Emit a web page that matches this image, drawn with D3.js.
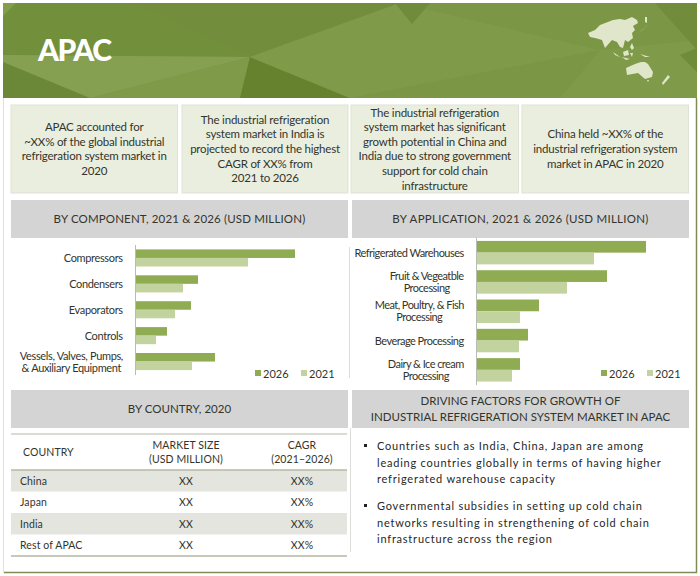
<!DOCTYPE html>
<html>
<head>
<meta charset="utf-8">
<script src="https://d3js.org/d3.v7.min.js"></script>
<style>
  html, body { margin: 0; padding: 0; background: #fff; }
  svg { display: block; }
  text { font-family: Lato, "Open Sans", sans-serif; fill: #33352c; }
  .box-text { font-size: 11.5px; letter-spacing: -0.2px; }
  .panel-title { font-size: 11.5px; }
  .chart-label { font-size: 11px; }
  .table-text { font-size: 10.5px; letter-spacing: 0.1px; }
  .bullet-text { font-size: 11px; letter-spacing: 0.78px; fill: #26271f; }
</style>
</head>
<body>
<div id="chart"></div>
<script>
const years = ['2026', '2021'];

const componentNames = [
  'Compressors', 'Condensers', 'Evaporators', 'Controls',
  'Vessels, Valves, Pumps,|& Auxiliary Equipment'
];
const component2026 = [160, 63, 56, 32, 80];
const component2021 = [113, 48, 40, 21, 57];

const applicationNames = [
  'Refrigerated Warehouses', 'Fruit & Vegeatble|Processing',
  'Meat, Poultry, & Fish|Processing', 'Beverage Processing',
  'Dairy & Ice cream|Processing'
];
const application2026 = [170, 131, 63, 52, 44];
const application2021 = [118, 91, 44, 43, 36];

const countries = ['China', 'Japan', 'India', 'Rest of APAC'];
const marketSizes = ['XX', 'XX', 'XX', 'XX'];
const cagrs = ['XX%', 'XX%', 'XX%', 'XX%'];

const boxTexts = [
  ['APAC accounted for', '~XX% of the global industrial', 'refrigeration system market in', '2020'],
  ['The industrial refrigeration', 'system market in India is', 'projected to record the highest', 'CAGR of XX% from', '2021 to 2026'],
  ['The industrial refrigeration', 'system market has significant', 'growth potential in China and', 'India due to strong government', 'support for cold chain', 'infrastructure'],
  ['China held ~XX% of the', 'industrial refrigeration system', 'market in APAC in 2020']
];

const driverLines = [
  ['Countries such as India, China, Japan are among', 'leading countries globally in terms of having higher', 'refrigerated warehouse capacity'],
  ['Governmental subsidies in setting up cold chain', 'networks resulting in strengthening of cold chain', 'infrastructure across the region']
];

const colors = { '2026': '#8fac52', '2021': '#c3d39f' };

// decoration only: facets of the header background and the map silhouette
const headerFacets = [
  ['#72903c', [[3, 3], [130, 3], [250, 57], [3, 55]]],
  ['#829d4b', [[3, 3], [16, 3], [3, 16]]],
  ['#85a050', [[3, 55], [250, 57], [90, 98], [3, 70]]],
  ['#6b8838', [[3, 62], [90, 98], [3, 98]]],
  ['#7f9a48', [[90, 98], [250, 57], [240, 98]]],
  ['#66822f', [[250, 57], [350, 98], [240, 98]]],
  ['#728e3c', [[130, 3], [400, 3], [250, 57]]],
  ['#7f9a48', [[250, 57], [400, 3], [600, 50], [350, 98]]],
  ['#6f8c3a', [[395, 3], [430, 3], [412, 24]]],
  ['#7f9a48', [[600, 50], [697, 40], [697, 98], [560, 98]]],
  ['#718d3b', [[655, 3], [697, 3], [697, 50]]],
  ['#6f8c3a', [[697, 48], [680, 55], [697, 72]]]
];

const mapShapes = [
  [[588, 33], [595, 30], [600, 25], [613, 20], [620, 19], [625, 20], [632, 17], [637, 20], [638, 23], [633, 26], [635, 30], [632, 33], [633, 38], [628, 42], [625, 40], [623, 48], [620, 47], [617, 42], [612, 40], [605, 48], [602, 40], [595, 38], [590, 37]],
  [[638, 33], [645, 28], [648, 24], [644, 29]],
  [[645, 17], [647, 17], [647, 23], [645, 22]],
  [[632, 43], [634, 48], [632, 50], [630, 47]],
  [[613, 52], [620, 57], [622, 58], [615, 55]],
  [[622, 57], [630, 59], [626, 60]],
  [[623, 52], [628, 50], [629, 55], [624, 56]],
  [[630, 53], [633, 53], [632, 57]],
  [[640, 54], [650, 57], [645, 57]],
  [[626, 68], [635, 64], [641, 62], [645, 62], [648, 64], [653, 72], [652, 77], [645, 79], [638, 73], [627, 75]],
  [[668, 75], [670, 77], [663, 85], [662, 83]],
  [[647, 80], [649, 80], [648, 82]]
];

const width = 700;
const height = 576;

const svg = d3.select('#chart').append('svg')
  .attr('width', width)
  .attr('height', height);

function drawHeader() {
  svg.append('rect')
    .attr('x', 3).attr('y', 3)
    .attr('width', 694).attr('height', 95)
    .attr('fill', '#7b9644');

  const line = d3.line().curve(d3.curveLinearClosed);

  svg.append('g').selectAll('path')
    .data(headerFacets)
    .join('path')
    .attr('d', d => line(d[1]))
    .attr('fill', d => d[0]);

  svg.append('g').selectAll('path')
    .data(mapShapes)
    .join('path')
    .attr('d', d => line(d))
    .attr('fill', '#dfe6c9');

  svg.append('text')
    .text('APAC')
    .attr('x', 38).attr('y', 61)
    .attr('font-size', 30)
    .attr('font-weight', 900)
    .style('letter-spacing', '-1.5px')
    .style('fill', '#fff');

  // page frame
  svg.append('path')
    .attr('d', 'M3.5,98V572.5H696.5V98')
    .attr('fill', 'none')
    .attr('stroke', '#dfe0d6');
  svg.append('path')
    .attr('d', 'M4,572.5H696.5V98')
    .attr('fill', 'none')
    .attr('stroke', '#7f8c55')
    .attr('stroke-width', 1.5);

  // thin dividers between the left and right columns
  svg.append('path')
    .attr('d', 'M349.5,247V378M350.5,428V552')
    .attr('fill', 'none')
    .attr('stroke', '#dcdcd8');
}

function drawBoxes() {
  const boxX = [11, 182, 351, 522];
  const boxW = [166.5, 166, 167.5, 166.5];

  const box = svg.append('g').selectAll('g')
    .data(boxTexts)
    .join('g')
    .attr('transform', (d, i) => `translate(${boxX[i]}, 105)`);

  box.append('rect')
    .attr('width', (d, i) => boxW[i])
    .attr('height', 88)
    .attr('fill', '#eaeedf')
    .attr('stroke', '#dfe3d4');

  box.each(function(lines, i) {
    const lineH = 14.6;
    const top = 44 - (lines.length - 1) * lineH / 2;
    d3.select(this).selectAll('text')
      .data(lines)
      .join('text')
      .attr('class', 'box-text')
      .text(d => d)
      .attr('x', boxW[i] / 2)
      .attr('y', (d, j) => top + j * lineH + 4)
      .attr('text-anchor', 'middle');
  });
}

function drawPanelTitle(x, y, w, h, lines, spacing) {
  svg.append('rect')
    .attr('x', x).attr('y', y)
    .attr('width', w).attr('height', h)
    .attr('fill', '#d4d4d4');

  const lineH = 16;
  lines.forEach((t, i) => {
    svg.append('text')
      .attr('class', 'panel-title')
      .text(t)
      .attr('x', x + w / 2)
      .attr('y', y + h / 2 + (i - (lines.length - 1) / 2) * lineH + 4)
      .attr('text-anchor', 'middle')
      .style('letter-spacing', spacing + 'px');
  });
}

function drawBarChart(cfg) {
  const xScale = d3.scaleLinear()
    .domain([0, cfg.maxValue])
    .range([cfg.left, cfg.left + cfg.maxValue]);

  const yScale = d3.scaleBand()
    .domain(cfg.names)
    .range([cfg.top, cfg.bottom])
    .paddingInner(cfg.padding)
    .paddingOuter(cfg.padding / 2);

  const seriesScale = d3.scaleBand()
    .domain(years)
    .range([0, yScale.bandwidth()]);

  const rows = cfg.names.map((name, i) => ({
    name,
    values: [{ year: '2026', value: cfg.v2026[i] }, { year: '2021', value: cfg.v2021[i] }]
  }));

  const g = svg.append('g').attr('class', 'bar-chart');

  const group = g.selectAll('.group')
    .data(rows)
    .join('g')
    .attr('class', 'group')
    .attr('transform', d => `translate(0, ${yScale(d.name)})`);

  group.selectAll('rect')
    .data(d => d.values)
    .join('rect')
    .attr('x', xScale(0))
    .attr('y', d => seriesScale(d.year))
    .attr('width', d => xScale(d.value) - xScale(0))
    .attr('height', seriesScale.bandwidth())
    .attr('fill', d => colors[d.year]);

  const axis = g.append('g')
    .attr('transform', `translate(${cfg.left}, 0)`)
    .call(d3.axisLeft(yScale).tickSize(0).tickPadding(12));

  axis.select('.domain')
    .attr('d', `M0.5,${cfg.axisTop}V${cfg.axisBottom}`)
    .attr('stroke', '#b9bcb0')
    .attr('stroke-width', 1);

  // labels with a | break into centred lines, right edge stays near the axis
  axis.selectAll('.tick text').each(function(d) {
    const text = d3.select(this).text(null)
      .attr('class', 'chart-label')
      .attr('dy', null)
      .style('letter-spacing', cfg.labelSpacing + 'px');
    const parts = d.split('|');
    parts.forEach((part, i) => {
      text.append('tspan')
        .text(part)
        .attr('x', 0)
        .attr('y', (i - (parts.length - 1) / 2) * 12 + 4);
    });
    text.attr('text-anchor', 'middle');
    const box = this.getBBox();
    text.attr('transform', `translate(${-cfg.labelGap - box.width / 2}, 0)`);
  });

  const legend = g.selectAll('.legend')
    .data(years)
    .join('g')
    .attr('class', 'legend')
    .attr('transform', (d, i) => `translate(${cfg.legendX + i * 46}, ${cfg.legendY})`);

  legend.append('rect')
    .attr('y', -5)
    .attr('width', 6).attr('height', 6)
    .attr('fill', d => colors[d]);

  legend.append('text')
    .attr('class', 'chart-label')
    .text(d => d)
    .attr('x', 8)
    .attr('y', 3);
}

function drawTable() {
  const rule = (y, w) => svg.append('line')
    .attr('x1', 11).attr('x2', 347)
    .attr('y1', y).attr('y2', y)
    .attr('stroke', '#b5b9a2')
    .attr('stroke-width', w);

  const rowY = d3.scaleBand()
    .domain(countries)
    .range([470, 556]);

  svg.append('g').selectAll('rect')
    .data(countries.filter((d, i) => i % 2 === 0))
    .join('rect')
    .attr('x', 11).attr('y', d => rowY(d))
    .attr('width', 336).attr('height', rowY.bandwidth())
    .attr('fill', '#e4e5df');

  rule(434, 1);
  rule(470, 1.5);
  rule(556, 1.5);

  const head = [
    { t: 'COUNTRY', x: 23, y: 456, a: 'start' },
    { t: 'MARKET SIZE', x: 186, y: 449, a: 'middle' },
    { t: '(USD MILLION)', x: 186, y: 463, a: 'middle' },
    { t: 'CAGR', x: 302, y: 449, a: 'middle' },
    { t: '(2021–2026)', x: 302, y: 463, a: 'middle' }
  ];
  svg.append('g').selectAll('text')
    .data(head)
    .join('text')
    .attr('class', 'table-text')
    .text(d => d.t)
    .attr('x', d => d.x)
    .attr('y', d => d.y)
    .attr('text-anchor', d => d.a);

  const row = svg.append('g').selectAll('g')
    .data(countries)
    .join('g')
    .attr('transform', d => `translate(0, ${rowY(d) + rowY.bandwidth() / 2 + 4})`);

  row.append('text').attr('class', 'table-text')
    .text(d => d).attr('x', 20);
  row.append('text').attr('class', 'table-text')
    .text((d, i) => marketSizes[i]).attr('x', 186).attr('text-anchor', 'middle');
  row.append('text').attr('class', 'table-text')
    .text((d, i) => cagrs[i]).attr('x', 302).attr('text-anchor', 'middle');
}

function drawDrivers() {
  const startY = [450, 510];
  const item = svg.append('g').selectAll('g')
    .data(driverLines)
    .join('g')
    .attr('transform', (d, i) => `translate(0, ${startY[i]})`);

  item.append('rect')
    .attr('x', 364).attr('y', -6)
    .attr('width', 3).attr('height', 3)
    .attr('fill', '#222');

  item.selectAll('text')
    .data(d => d)
    .join('text')
    .attr('class', 'bullet-text')
    .text(d => d)
    .attr('x', 377)
    .attr('y', (d, i) => i * 16.5);
}

drawHeader();
drawBoxes();

drawPanelTitle(11, 200, 337, 38, ['BY COMPONENT, 2021 & 2026 (USD MILLION)'], 0.15);
drawPanelTitle(352, 200, 337, 38, ['BY APPLICATION, 2021 & 2026 (USD MILLION)'], 0.27);
drawPanelTitle(11, 390, 337, 38, ['BY COUNTRY, 2020'], 0.03);
drawPanelTitle(352, 390, 337, 38, ['DRIVING FACTORS FOR GROWTH OF', 'INDUSTRIAL REFRIGERATION SYSTEM MARKET IN APAC'], 0);

drawBarChart({
  names: componentNames, v2026: component2026, v2021: component2021, maxValue: 170,
  left: 135, top: 245, bottom: 374.5, padding: 0.34,
  axisTop: 245, axisBottom: 375, labelGap: 12, labelSpacing: -0.35, legendX: 255, legendY: 375
});

drawBarChart({
  names: applicationNames, v2026: application2026, v2021: application2021, maxValue: 180,
  left: 476, top: 238, bottom: 384.5, padding: 0.2,
  axisTop: 238, axisBottom: 385, labelGap: 12, labelSpacing: -0.55, legendX: 601, legendY: 375
});

drawTable();
drawDrivers();
</script>
</body>
</html>
